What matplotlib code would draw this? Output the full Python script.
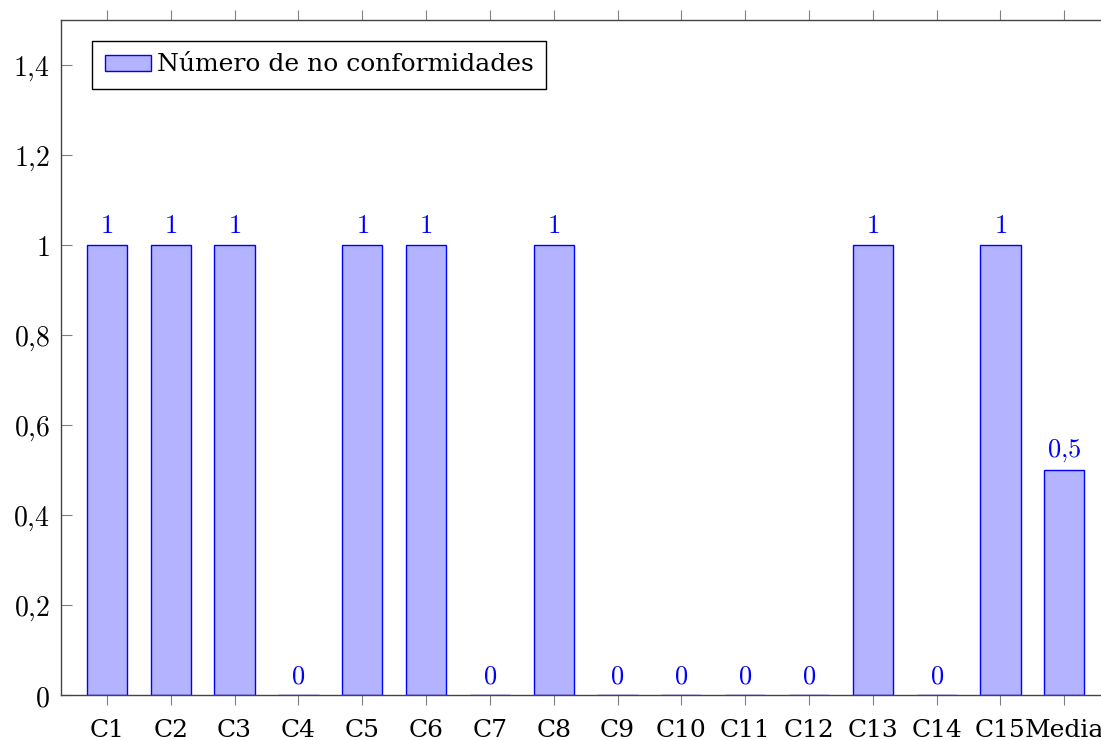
import matplotlib.pyplot as plt

plt.rcParams['mathtext.fontset'] = 'cm'

categories = ['C1', 'C2', 'C3', 'C4', 'C5', 'C6', 'C7', 'C8', 'C9', 'C10',
              'C11', 'C12', 'C13', 'C14', 'C15', 'Media']
values = [1, 1, 1, 0, 1, 1, 0, 1, 0, 0, 0, 0, 1, 0, 1, 0.5]
yticks = [0, 0.2, 0.4, 0.6, 0.8, 1.0, 1.2, 1.4]
ytick_labels = ['$0$', '$0{,}2$', '$0{,}4$', '$0{,}6$', '$0{,}8$', '$1$', '$1{,}2$', '$1{,}4$']
legend_label = 'Número de no conformidades'


def fmt(v):
    s = ('%g' % v).replace('.', '{,}')
    return '$' + s + '$'


fig = plt.figure(figsize=(11.01, 7.40), dpi=100)
ax = fig.add_axes([0.0554, 0.0608, 0.953, 0.9122])

x = list(range(len(categories)))
bars = ax.bar(x, values, width=0.63, color=(0.7, 0.7, 1.0), edgecolor='blue',
              linewidth=1.0, label=legend_label)

for xi, v in zip(x, values):
    ax.annotate(fmt(v), (xi, v), xytext=(0, 4), textcoords='offset points',
                ha='center', va='bottom', color='blue', fontsize=19)

ax.set_xlim(-0.72, len(categories) - 1 + 0.72)
ax.set_ylim(0, 1.5)
ax.set_xticks(x)
ax.set_xticklabels(categories, fontsize=18, family='DejaVu Serif')
ax.set_yticks(yticks)
ax.set_yticklabels(ytick_labels, fontsize=20)

ax.tick_params(axis='x', direction='out', length=7, width=0.8, color='gray',
               top=True, pad=10)
ax.tick_params(axis='y', direction='in', length=8, width=0.8, color='gray',
               pad=8)
for sp in ax.spines.values():
    sp.set_color('#444444')
    sp.set_linewidth(1.0)

leg = ax.legend(loc='upper left', bbox_to_anchor=(0.03, 0.969),
                prop={'family': 'DejaVu Serif', 'size': 18},
                fancybox=False, framealpha=1, edgecolor='black',
                handlelength=1.84, handleheight=0.6, handletextpad=0.25,
                borderpad=0.5, borderaxespad=0)
leg.get_frame().set_linewidth(1.0)

fig.savefig('out.png', dpi=100)
